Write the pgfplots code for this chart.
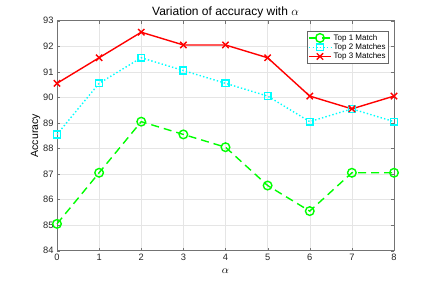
\documentclass[border=0pt]{standalone}
\usepackage{pgfplots}
\pgfplotsset{compat=1.18}
\usepackage{fontspec}
\setmainfont{Liberation Sans}
\begin{document}
\begin{tikzpicture}
\begin{axis}[
    scale only axis,
    width=337bp,
    height=230bp,
    xmin=0, xmax=8,
    ymin=84, ymax=93,
    xtick={0,1,...,8},
    ytick={84,85,...,93},
    /pgf/number format/assume math mode=true,
    tick label style={font=\fontsize{9.3bp}{11bp}\selectfont, color=black!85},
    xlabel={$\alpha$},
    ylabel={Accuracy},
    label style={font=\fontsize{10.5bp}{12bp}\selectfont},
    xlabel style={yshift=-1bp},
    ylabel style={yshift=-4bp},
    title={Variation of accuracy with $\alpha$},
    title style={font=\fontsize{12bp}{14bp}\selectfont, yshift=-7bp},
    grid=major,
    grid style={gray!20, line width=0.5bp},
    axis line style={black!55, line width=0.6bp},
    major tick length=3bp,
    tick style={black!55},
    clip=false,
    legend style={
        at={(rel axis cs:0.985,0.955)}, anchor=north east,
        font=\fontsize{8bp}{9bp}\selectfont,
        draw=black!60, line width=0.5bp,
        inner sep=1bp, row sep=-2bp,
        cells={anchor=west},
    },
    legend image code/.code={
        \draw[mark repeat=2, mark phase=2] plot coordinates {(0bp,0bp) (11bp,0bp) (22bp,0bp)};
    },
]
\addplot[color={rgb,1:red,0;green,1;blue,0}, line width=1.4bp, dash pattern=on 8bp off 5bp,
    mark=o, mark size=4.3bp, mark options={solid}]
    coordinates {(0,85.05) (1,87.05) (2,89.05) (3,88.55) (4,88.05) (5,86.55) (6,85.55) (7,87.05) (8,87.05)};
\addlegendentry{Top 1 Match}
\addplot[color={rgb,1:red,0;green,1;blue,1}, line width=1.4bp, dash pattern=on 1.4bp off 2.2bp,
    mark=square, mark size=3.4bp, mark options={solid}]
    coordinates {(0,88.55) (1,90.55) (2,91.55) (3,91.05) (4,90.55) (5,90.05) (6,89.05) (7,89.55) (8,89.05)};
\addlegendentry{Top 2 Matches}
\addplot[color={rgb,1:red,1;green,0;blue,0}, line width=1.4bp,
    mark=x, mark size=4.5bp, mark options={solid}]
    coordinates {(0,90.55) (1,91.55) (2,92.55) (3,92.05) (4,92.05) (5,91.55) (6,90.05) (7,89.55) (8,90.05)};
\addlegendentry{Top 3 Matches}
\path (rel axis cs:-0.1691,-0.1348) rectangle (rel axis cs:1.1246,1.09);
\end{axis}
\end{tikzpicture}
\end{document}
